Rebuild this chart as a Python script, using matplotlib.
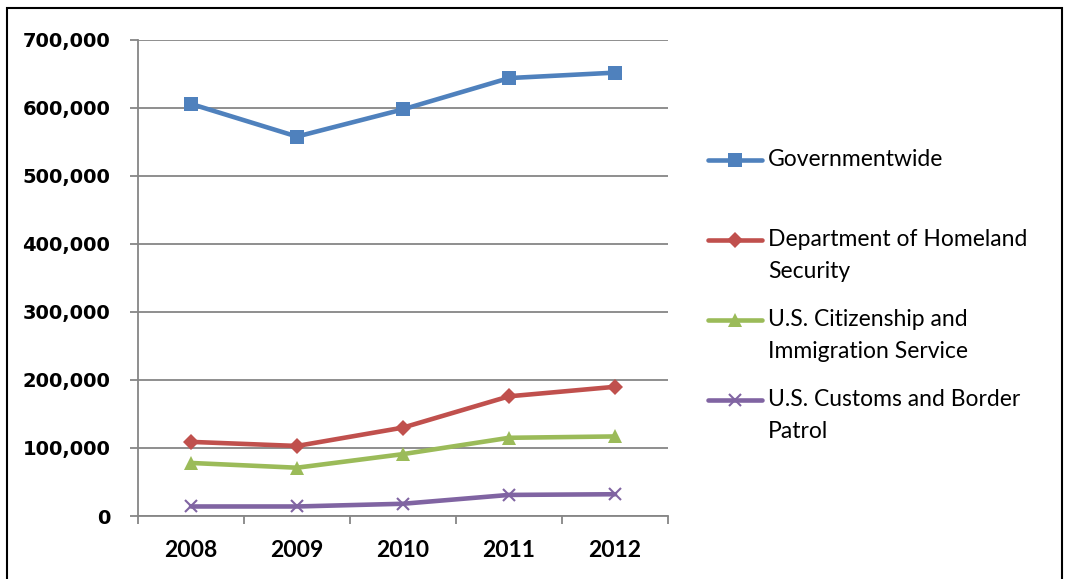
import matplotlib
matplotlib.use("Agg")
import matplotlib.pyplot as plt
from matplotlib.lines import Line2D
from matplotlib.patches import Rectangle
from matplotlib.ticker import FuncFormatter, FixedLocator

years = ["2008", "2009", "2010", "2011", "2012"]
governmentwide = [606000, 558000, 598000, 644000, 652000]
dhs = [109000, 103000, 130000, 176000, 190000]
uscis = [78000, 71000, 91000, 115000, 117000]
cbp = [14000, 14000, 18000, 31000, 32000]

labels = ["Governmentwide", "Department of Homeland\nSecurity",
          "U.S. Citizenship and\nImmigration Service",
          "U.S. Customs and Border\nPatrol"]
colors = ["#4F81BD", "#C0504D", "#9BBB59", "#8064A2"]
markers = ["s", "D", "^", "x"]
msizes = [10, 8, 10, 9]

W, H = 1065, 579
fig = plt.figure(figsize=(W / 100, H / 100), dpi=100)
ax = fig.add_axes([138 / W, 1 - 516 / H, (668 - 138) / W, (516 - 40) / H])

x = list(range(len(years)))
series = [governmentwide, dhs, uscis, cbp]
for vals, c, m, ms in zip(series, colors, markers, msizes):
    kw = dict(markeredgewidth=1.5) if m == "x" else dict(markeredgewidth=0)
    ax.plot(x, vals, color=c, lw=3.3, marker=m, markersize=ms,
            markerfacecolor=c, markeredgecolor=c, solid_capstyle="round", **kw)

ax.set_xlim(-0.5, len(years) - 0.5)
ax.set_ylim(0, 700000)
ax.set_yticks(range(0, 700001, 100000))
ax.yaxis.set_major_formatter(FuncFormatter(lambda v, p: f"{int(v):,}"))
ax.grid(axis="y", color="#868686", lw=1.3)
ax.set_axisbelow(True)

ax.set_xticks(x)
ax.set_xticklabels(years)
ax.xaxis.set_minor_locator(FixedLocator([i - 0.5 for i in range(len(years) + 1)]))
ax.tick_params(axis="x", which="major", length=0, pad=17)
ax.tick_params(axis="x", which="minor", length=6, width=1.3, color="#868686", direction="out")
ax.tick_params(axis="y", length=6, width=1.3, color="#868686", pad=14)

for lab in ax.get_xticklabels():
    lab.set_fontfamily("Lato")
    lab.set_fontweight("bold")
    lab.set_fontsize(16.5)
for lab in ax.get_yticklabels():
    lab.set_fontfamily("DejaVu Sans")
    lab.set_fontweight("bold")
    lab.set_fontsize(14)

for s in ["top", "right"]:
    ax.spines[s].set_visible(False)
for s in ["left", "bottom"]:
    ax.spines[s].set_color("#868686")
    ax.spines[s].set_linewidth(1.3)

# Legend (manual, Excel-like)
ys = [160, 240, 320, 400]
for lab, c, m, ms, yy in zip(labels, colors, markers, msizes, ys):
    yf = 1 - yy / H
    kw = dict(markeredgewidth=1.5) if m == "x" else dict(markeredgewidth=0)
    ln = Line2D([708 / W, 735 / W, 762 / W], [yf, yf, yf], transform=fig.transFigure,
                color=c, lw=3.3, marker=m, markersize=ms, markevery=[1],
                markerfacecolor=c, markeredgecolor=c, solid_capstyle="round", **kw)
    fig.add_artist(ln)
    lines = lab.split("\n")
    for i, t in enumerate(lines):
        fig.text(768 / W, 1 - (yy + 32 * i) / H, t, fontsize=16.5, family="Lato",
                 va="center", ha="left", color="black")

# Outer frame
fig.add_artist(Rectangle((7 / W, -0.05), (1062 - 7) / W, 1.05 - 8 / H,
                         transform=fig.transFigure, fill=False, edgecolor="black", lw=1.5))

fig.savefig("out.png", dpi=100)
